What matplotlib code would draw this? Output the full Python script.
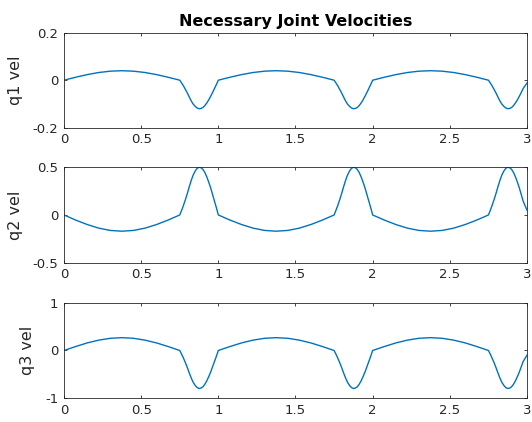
import numpy as np
import matplotlib
matplotlib.use('Agg')
import matplotlib.pyplot as plt

# time samples (s): coarse on the slow arcs, fine on the fast bumps
t = [0.0, 0.075, 0.15, 0.225, 0.3, 0.375, 0.45, 0.525, 0.6, 0.675,
     0.75, 0.7625, 0.775, 0.7875, 0.8, 0.8125, 0.825, 0.8375, 0.85, 0.8625,
     0.875, 0.8875, 0.9, 0.9125, 0.925, 0.9375, 0.95, 0.9625, 0.975, 0.9875,
     1.0, 1.075, 1.15, 1.225, 1.3, 1.375, 1.45, 1.525, 1.6, 1.675,
     1.75, 1.7625, 1.775, 1.7875, 1.8, 1.8125, 1.825, 1.8375, 1.85, 1.8625,
     1.875, 1.8875, 1.9, 1.9125, 1.925, 1.9375, 1.95, 1.9625, 1.975, 1.9875,
     2.0, 2.075, 2.15, 2.225, 2.3, 2.375, 2.45, 2.525, 2.6, 2.675,
     2.75, 2.7625, 2.775, 2.7875, 2.8, 2.8125, 2.825, 2.8375, 2.85, 2.8625,
     2.875, 2.8875, 2.9, 2.9125, 2.925, 2.9375, 2.95, 2.9625, 2.975,
     3.0]

q1_vel = [0.0, 0.0124, 0.0235, 0.0324, 0.038, 0.04, 0.038, 0.0324, 0.0235, 0.0124,
          0.0, -0.012, -0.025, -0.04, -0.055, -0.072, -0.088, -0.101, -0.11, -0.117,
          -0.12, -0.119, -0.115, -0.107, -0.096, -0.083, -0.068, -0.052, -0.035, -0.018,
          0.0, 0.0124, 0.0235, 0.0324, 0.038, 0.04, 0.038, 0.0324, 0.0235, 0.0124,
          0.0, -0.012, -0.025, -0.04, -0.055, -0.072, -0.088, -0.101, -0.11, -0.117,
          -0.12, -0.119, -0.115, -0.107, -0.096, -0.083, -0.068, -0.052, -0.035, -0.018,
          0.0, 0.0124, 0.0235, 0.0324, 0.038, 0.04, 0.038, 0.0324, 0.0235, 0.0124,
          0.0, -0.012, -0.025, -0.04, -0.055, -0.072, -0.088, -0.101, -0.11, -0.117,
          -0.12, -0.119, -0.115, -0.107, -0.096, -0.083, -0.068, -0.052, -0.035,
          -0.012]

q2_vel = [0.0, -0.053, -0.1, -0.138, -0.162, -0.17, -0.162, -0.138, -0.1, -0.053,
          0.0, 0.05, 0.105, 0.165, 0.23, 0.3, 0.365, 0.42, 0.46, 0.488,
          0.5, 0.495, 0.478, 0.445, 0.4, 0.345, 0.285, 0.215, 0.145, 0.075,
          0.0, -0.053, -0.1, -0.138, -0.162, -0.17, -0.162, -0.138, -0.1, -0.053,
          0.0, 0.05, 0.105, 0.165, 0.23, 0.3, 0.365, 0.42, 0.46, 0.488,
          0.5, 0.495, 0.478, 0.445, 0.4, 0.345, 0.285, 0.215, 0.145, 0.075,
          0.0, -0.053, -0.1, -0.138, -0.162, -0.17, -0.162, -0.138, -0.1, -0.053,
          0.0, 0.05, 0.105, 0.165, 0.23, 0.3, 0.365, 0.42, 0.46, 0.488,
          0.5, 0.495, 0.478, 0.445, 0.4, 0.345, 0.285, 0.215, 0.145,
          0.05]

q3_vel = [0.0, 0.083, 0.159, 0.218, 0.257, 0.27, 0.257, 0.218, 0.159, 0.083,
          0.0, -0.08, -0.168, -0.264, -0.368, -0.48, -0.584, -0.672, -0.736, -0.78,
          -0.8, -0.792, -0.764, -0.712, -0.64, -0.552, -0.456, -0.344, -0.232, -0.12,
          0.0, 0.083, 0.159, 0.218, 0.257, 0.27, 0.257, 0.218, 0.159, 0.083,
          0.0, -0.08, -0.168, -0.264, -0.368, -0.48, -0.584, -0.672, -0.736, -0.78,
          -0.8, -0.792, -0.764, -0.712, -0.64, -0.552, -0.456, -0.344, -0.232, -0.12,
          0.0, 0.083, 0.159, 0.218, 0.257, 0.27, 0.257, 0.218, 0.159, 0.083,
          0.0, -0.08, -0.168, -0.264, -0.368, -0.48, -0.584, -0.672, -0.736, -0.78,
          -0.8, -0.792, -0.764, -0.712, -0.64, -0.552, -0.456, -0.344, -0.232,
          -0.1]

xticks = [0, 0.5, 1, 1.5, 2, 2.5, 3]
xticklabels = ['0', '0.5', '1', '1.5', '2', '2.5', '3']

series = [q1_vel, q2_vel, q3_vel]
ylabels = ['q1 vel', 'q2 vel', 'q3 vel']
ylims = [(-0.2, 0.2), (-0.5, 0.5), (-1, 1)]
yticks = [[-0.2, 0, 0.2], [-0.5, 0, 0.5], [-1, 0, 1]]
yticklabels = [['-0.2', '0', '0.2'], ['-0.5', '0', '0.5'], ['-1', '0', '1']]

dark = '#262626'
fig = plt.figure(figsize=(5.32, 4.22), dpi=100)
bottoms = [0.6974, 0.3775, 0.0569]
heights = [0.2251, 0.2262, 0.2251]

for i in range(3):
    ax = fig.add_axes([0.1203, bottoms[i], 0.8703, heights[i]])
    ax.plot(t, series[i], color='#0072BD', lw=1.0)
    ax.set_xlim(0, 3)
    ax.set_ylim(*ylims[i])
    ax.set_xticks(xticks)
    ax.set_xticklabels(xticklabels)
    ax.set_yticks(yticks[i])
    ax.set_yticklabels(yticklabels[i])
    ax.tick_params(direction='in', length=2.5, width=0.6, colors=dark,
                   labelsize=9.5, top=True, right=True, pad=4)
    for s in ax.spines.values():
        s.set_color(dark)
        s.set_linewidth(0.6)
    ax.set_ylabel(ylabels[i], fontsize=11.5, color=dark, labelpad=7)
    if i == 0:
        ax.set_title('Necessary Joint Velocities', fontsize=11.5,
                     fontweight='bold', color='black', pad=5)

fig.savefig('out.png', dpi=100)
